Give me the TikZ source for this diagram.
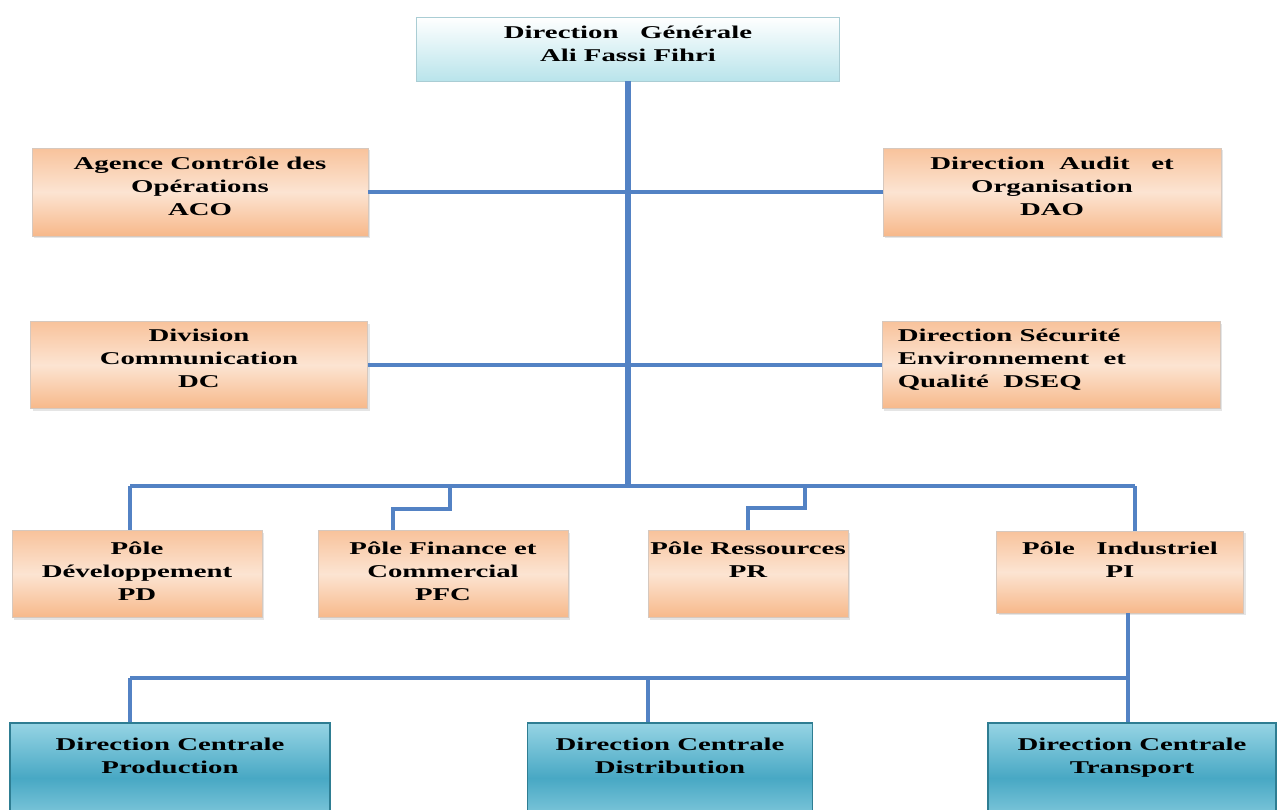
\documentclass[tikz,border=0pt]{standalone}
\usepackage{fontspec}
\setmainfont{Liberation Serif}[FakeStretch=1.6]
\usetikzlibrary{positioning,shadows}

\definecolor{linkblue}{RGB}{83,130,196}
\definecolor{peachD}{RGB}{247,184,138}
\definecolor{peachL}{RGB}{252,228,210}
\definecolor{peachB}{RGB}{214,200,190}
\definecolor{cyanL}{RGB}{185,228,235}
\definecolor{cyanB}{RGB}{170,205,212}
\definecolor{tealL}{RGB}{150,212,228}
\definecolor{tealM}{RGB}{72,168,196}
\definecolor{tealB}{RGB}{46,125,146}

\tikzset{
  box/.style={rectangle, inner sep=0, line width=0.8},
  headbox/.style={box, draw=cyanB, top color=white, bottom color=cyanL},
  peachbox/.style={box, draw=peachB, top color=peachD!85, bottom color=peachD, middle color=peachL,
                   drop shadow={opacity=0.2, shadow xshift=2pt, shadow yshift=-2pt}},
  tealbox/.style={box, draw=tealB, line width=1.2, top color=tealL, bottom color=tealL, middle color=tealM},
  txt/.style={inner sep=0, anchor=north, align=center,
              font=\fontsize{18}{23}\selectfont\bfseries}
}

\begin{document}
\begin{tikzpicture}[x=1pt,y=-1pt,
    link/.style={draw=linkblue, line width=4},
    trunk/.style={draw=linkblue, line width=6}]

  \clip (0,0) rectangle (1279,809);
  \fill[white] (0,0) rectangle (1279,809);

  % head
  \node[headbox, minimum width=423, minimum height=64] (dg) at (628,49) {};
  \node[txt] (dg-t) at ([yshift=-9]dg.north) {Direction\ \ \ Générale\\Ali Fassi Fihri};

  % staff units
  \node[peachbox, minimum width=336, minimum height=88] (aco) at (200,192) {};
  \node[txt] (aco-t) at ([yshift=-9]aco.north) {Agence Contrôle des\\Opérations\\ACO};
  \node[peachbox, minimum width=338, minimum height=88] (dao) at (1052,192) {};
  \node[txt] (dao-t) at ([yshift=-9]dao.north) {Direction\ \ Audit\ \ \ et\\Organisation\\DAO};
  \node[peachbox, minimum width=337, minimum height=87] (dc) at (199,365) {};
  \node[txt] (dc-t) at ([yshift=-8]dc.north) {Division\\Communication\\DC};
  \node[peachbox, minimum width=338, minimum height=87] (dseq) at (1051,365) {};
  \node[txt, anchor=north west, align=left] (dseq-t) at ([xshift=16,yshift=-8]dseq.north west)
    {Direction Sécurité\\Environnement\ \ et\\Qualité\ \ DSEQ};

  % poles
  \node[peachbox, minimum width=250, minimum height=87] (pd) at (137,574) {};
  \node[txt] (pd-t) at ([yshift=-11]pd.north) {Pôle\\Développement\\PD};
  \node[peachbox, minimum width=250, minimum height=87] (pfc) at (443,574) {};
  \node[txt] (pfc-t) at ([yshift=-11]pfc.north) {Pôle Finance et\\Commercial\\PFC};
  \node[peachbox, minimum width=200, minimum height=87] (pr) at (748,574) {};
  \node[txt] (pr-t) at ([yshift=-11]pr.north) {Pôle Ressources\\PR};
  \node[peachbox, minimum width=247, minimum height=82] (pi) at (1120,572) {};
  \node[txt] (pi-t) at ([yshift=-11]pi.north) {Pôle\ \ \ Industriel\\PI};

  % central directions
  \node[tealbox, minimum width=320, minimum height=110] (prod) at (170,778) {};
  \node[txt] (prod-t) at ([yshift=-15]prod.north) {Direction Centrale\\Production};
  \node[tealbox, minimum width=285, minimum height=110] (dist) at (670,778) {};
  \node[txt] (dist-t) at ([yshift=-15]dist.north) {Direction Centrale\\Distribution};
  \node[tealbox, minimum width=288, minimum height=110] (trans) at (1132,778) {};
  \node[txt] (trans-t) at ([yshift=-15]trans.north) {Direction Centrale\\Transport};

  % junctions
  \coordinate (hub) at (628,486);
  \coordinate (busW) at (130,486);
  \coordinate (busE) at (1135,486);
  \coordinate (jf) at (450,486);
  \coordinate (jr) at (805,486);
  \coordinate (lowW) at (130,678);
  \coordinate (lowM) at (648,678);
  \coordinate (lowE) at (1128,678);

  % connectors
  \draw[trunk] (dg.south) -- (hub);
  \draw[link] (aco.east) -- (aco.east -| dao.west);
  \draw[link] (dc.east) -- (dc.east -| dseq.west);
  \draw[link] (busW) -- (busE);
  \draw[link] (busW) -- (busW |- pd.north);
  \draw[link] (jf) -- ++(0,23) -| ([xshift=-50]pfc.north);
  \draw[link] (jr) -- ++(0,22) -| (pr.north);
  \draw[link] (busE) -- (busE |- pi.north);
  \draw[link] (pi.south -| lowE) -- (lowE |- trans.north);
  \draw[link] (lowW) -- (lowE);
  \draw[link] (lowW) -- (lowW |- prod.north);
  \draw[link] (lowM) -- (lowM |- dist.north);
\end{tikzpicture}
\end{document}
